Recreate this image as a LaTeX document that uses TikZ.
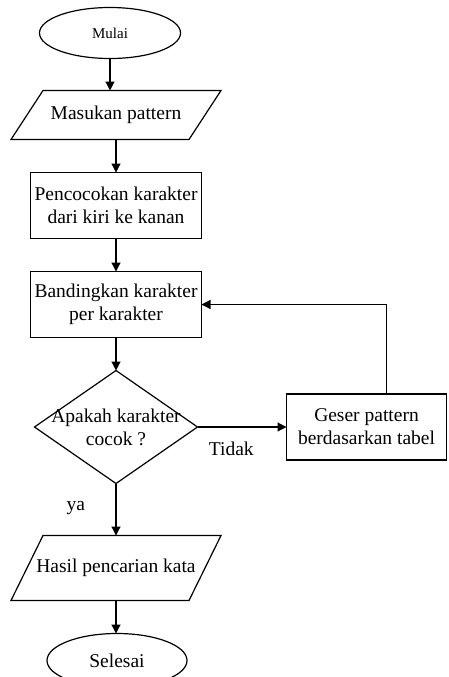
\documentclass[tikz,border=0pt]{standalone}
\usepackage{fontspec}
\setmainfont{Liberation Serif}
\usepackage{tikz}
\usetikzlibrary{positioning, shapes.geometric, arrows.meta}

\begin{document}
\begin{tikzpicture}[x=1pt, y=1pt, node distance={33pt}, line width=1.2pt,
		font=\fontsize{19.5}{23}\selectfont, >={Triangle[length=9pt, width=9pt]},
		term/.style = {draw, ellipse, minimum width=141pt, minimum height=51pt, inner sep=0pt, outer sep=0pt},
		io/.style = {rectangle, minimum width=210pt, inner sep=0pt, outer sep=0pt},
		proc/.style = {draw, rectangle, minimum width=171pt, minimum height=66pt, align=center, inner sep=0pt, outer sep=0pt},
		cond/.style = {draw, diamond, minimum width=163pt, minimum height=113pt, inner sep=0pt, outer sep=0pt}]
		\clip (0,0) rectangle (448,-677);
		\node[term, font=\fontsize{15}{18}\selectfont] (mulai) at (110,-33) {Mulai};
		\node[io, minimum height=49pt] (masukan) [below=32pt of mulai, xshift=6pt] {Masukan pattern};
		\node[proc] (cocok) [below=of masukan] {Pencocokan karakter\\dari kiri ke kanan};
		\node[proc] (banding) [below=of cocok] {Bandingkan karakter\\per karakter};
		\node[cond, label={[align=center]center:{Apakah karakter\\cocok ?}}] (cek) [below=of banding] {};
		\node[proc, minimum width=160pt] (geser) [right=89pt of cek] {Geser pattern\\berdasarkan tabel};
		\node[io, minimum height=65pt] (hasil) [below=52pt of cek] {Hasil pencarian kata};
		\node[term, minimum width=140pt, minimum height=54pt] (selesai) [below=33pt of hasil, xshift=1pt] {Selesai};
		
		% input/output parallelograms
		\foreach \n in {masukan, hasil}
			\draw ([xshift=32pt]\n.north west) -- (\n.north east) -- ([xshift=-32pt]\n.south east) -- (\n.south west) -- cycle;
		
		\draw[->] (mulai) -- (mulai |- masukan.north);
		\draw[->] (masukan) -- (cocok);
		\draw[->] (cocok) -- (banding);
		\draw[->] (banding) -- (cek);
		\draw[->] (cek) -- node[below=11pt, pos=0.38] (tidak) {Tidak} (geser);
		\draw[->] ([xshift=20pt]geser.north) |- (banding);
		\draw[->] (cek) -- node[left=27pt, pos=0.48] (ya) {ya} (hasil);
		\draw[->] (hasil) -- (hasil |- selesai.north);
	\end{tikzpicture}
\end{document}
